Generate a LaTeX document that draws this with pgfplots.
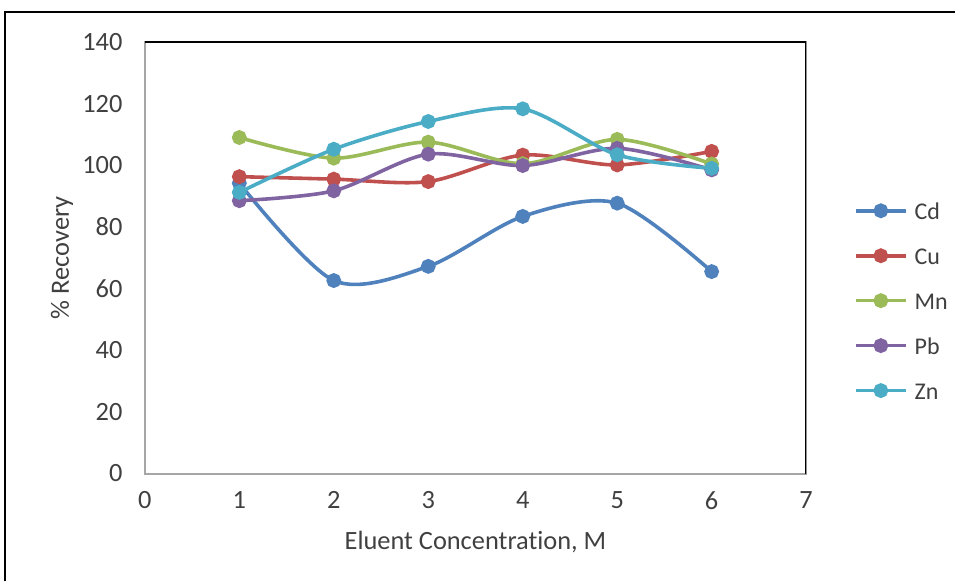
\documentclass[border=0pt]{standalone}
\usepackage{fontspec}
\setmainfont{Carlito}[Ligatures={NoCommon}]
\usepackage{pgfplots}
\pgfplotsset{compat=1.18}
\definecolor{cCd}{HTML}{4F81BD}
\definecolor{cCu}{HTML}{C0504D}
\definecolor{cMn}{HTML}{9BBB59}
\definecolor{cPb}{HTML}{8064A2}
\definecolor{cZn}{HTML}{4BACC6}
\definecolor{txt}{HTML}{404040}
\begin{document}
\fontsize{12bp}{14bp}\selectfont
\begin{tikzpicture}
\begin{axis}[
  at={(0,0)}, anchor=south west,
  scale only axis, width=331bp, height=216bp,
  xmin=0, xmax=7, ymin=0, ymax=140,
  xtick={0,1,...,7}, ytick={0,20,...,140},
  major tick length=0pt,
  axis line style={gray!70, line width=1bp},
  tick label style={font=\fontsize{13.2bp}{15bp}\selectfont, text=txt},
  /pgf/number format/assume math mode=true,
  xticklabel style={yshift=-5bp},
  yticklabel style={xshift=-7bp},
  xlabel={Eluent Concentration, M},
  ylabel={\% Recovery},
  label style={font=\fontsize{13.2bp}{15bp}\selectfont, text=txt},
  xlabel style={at={(axis description cs:0.5,-0.1597)}, anchor=center},
  ylabel style={at={(axis description cs:-0.1254,0.5)}, anchor=center, rotate=0},
  every axis plot/.append style={line width=1.8bp, smooth, tension=0.5, mark=*, mark size=2.8bp, mark options={solid}},
  legend style={draw=none, fill=none, inner sep=0pt, outer sep=0pt,
    at={(rel axis cs:1.0725,0.4005)}, anchor=west, row sep=14bp,
    font=\fontsize{12bp}{14bp}\selectfont, text=txt,
    nodes={inner sep=0pt, outer sep=0pt, text height=8.5bp, text depth=0pt}},
  legend cell align=left,
  legend image code/.code={
    \draw[#1, mark=none] (0bp,0bp) -- (25bp,0bp);
    \draw[#1, only marks] plot coordinates {(12.5bp,0bp)};
  },
]
\addplot[color=cCd] coordinates {(1,94.2) (2,62.6) (3,67.2) (4,83.4) (5,87.7) (6,65.5)};
\addlegendentry{\hspace{3.5bp}Cd}
\addplot[color=cCu] coordinates {(1,96.3) (2,95.5) (3,94.7) (4,103.3) (5,100.1) (6,104.5)};
\addlegendentry{\hspace{3.5bp}Cu}
\addplot[color=cMn] coordinates {(1,109.0) (2,102.3) (3,107.5) (4,100.5) (5,108.4) (6,100.4)};
\addlegendentry{\hspace{3.5bp}Mn}
\addplot[color=cPb] coordinates {(1,88.5) (2,91.7) (3,103.6) (4,99.9) (5,105.5) (6,98.5)};
\addlegendentry{\hspace{3.5bp}Pb}
\addplot[color=cZn] coordinates {(1,91.2) (2,105.2) (3,114.2) (4,118.3) (5,103.4) (6,99.0)};
\addlegendentry{\hspace{3.5bp}Zn}
\draw[black, line width=1.2bp] (rel axis cs:0,1) -- (rel axis cs:1,1) -- (rel axis cs:1,0);
\end{axis}
\draw[black, line width=1bp] (-70bp,-54bp) -- (-70bp,231bp) -- (405.5bp,231bp);
\useasboundingbox (-72.5bp,-54bp) rectangle (405.5bp,237bp);
\end{tikzpicture}
\end{document}
